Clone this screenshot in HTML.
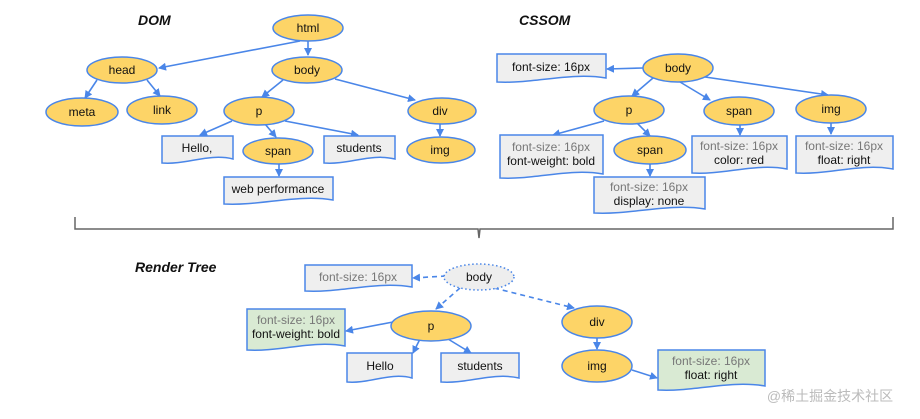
<!DOCTYPE html>
<html><head><meta charset="utf-8"><style>
html,body{margin:0;padding:0;background:#fff;}
svg{display:block;font-family:"Liberation Sans",Arial,sans-serif;}
.e{fill:#fdd467;stroke:#4a86e8;stroke-width:1.5}
.d{fill:#efefef;stroke:#4a86e8;stroke-width:1.5}
.g{fill:#d9ead3;stroke:#4a86e8;stroke-width:1.5}
.a{stroke:#4a86e8;stroke-width:1.6;fill:none;marker-end:url(#m)}
.ad{stroke:#4a86e8;stroke-width:1.6;fill:none;stroke-dasharray:5,4;marker-end:url(#m)}
text{font-size:12px;fill:#111;text-anchor:middle}
.gr{fill:#777}
.t{font-size:14px;font-weight:bold;font-style:italic;text-anchor:start}
</style></head><body>
<svg width="920" height="419" viewBox="0 0 920 419">
<defs><marker id="m" markerWidth="8" markerHeight="8" refX="7" refY="4" orient="auto" markerUnits="userSpaceOnUse"><path d="M0,0 L8,4 L0,8 z" fill="#4a86e8"/></marker></defs>

<text class="t" x="138" y="25">DOM</text>
<text class="t" x="519" y="25">CSSOM</text>
<text class="t" x="135" y="272">Render Tree</text>

<!-- DOM edges -->
<path class="a" d="M308,41 L308,55"/>
<path class="a" d="M300,41 L159,68"/>
<path class="a" d="M97,80 L85,98"/>
<path class="a" d="M147,80 L160,96"/>
<path class="a" d="M283,80 L262,97"/>
<path class="a" d="M335,79 L415,100"/>
<path class="a" d="M232,121 L200,135"/>
<path class="a" d="M265,124 L276,137"/>
<path class="a" d="M285,121 L358,135"/>
<path class="a" d="M440,124 L440,136"/>
<path class="a" d="M279,164 L279,176"/>

<!-- DOM nodes -->
<ellipse class="e" cx="308" cy="28" rx="35" ry="13"/><text x="308" y="32">html</text>
<ellipse class="e" cx="122" cy="70" rx="35" ry="13"/><text x="122" y="74">head</text>
<ellipse class="e" cx="307" cy="70" rx="35" ry="13"/><text x="307" y="74">body</text>
<ellipse class="e" cx="82" cy="112" rx="36" ry="14"/><text x="82" y="116">meta</text>
<ellipse class="e" cx="162" cy="110" rx="35" ry="14"/><text x="162" y="114">link</text>
<ellipse class="e" cx="259" cy="111" rx="35" ry="14"/><text x="259" y="115">p</text>
<ellipse class="e" cx="442" cy="111" rx="34" ry="13"/><text x="440" y="115">div</text>
<ellipse class="e" cx="278" cy="151" rx="35" ry="13"/><text x="278" y="155">span</text>
<ellipse class="e" cx="441" cy="150" rx="34" ry="13"/><text x="440" y="154">img</text>
<path class="d" d="M162,136 h71 v23 c-24,-6 -47,6 -71,4 z"/><text x="197" y="152">Hello,</text>
<path class="d" d="M324,136 h71 v23 c-24,-6 -47,6 -71,4 z"/><text x="359" y="152">students</text>
<path class="d" d="M224,177 h109 v23 c-36,-6 -73,6 -109,4 z"/><text x="278" y="193">web performance</text>

<!-- CSSOM edges -->
<path class="a" d="M643,68 L607,69"/>
<path class="a" d="M653,78 L632,96"/>
<path class="a" d="M680,82 L710,100"/>
<path class="a" d="M705,77 L828,95"/>
<path class="a" d="M604,121 L553,135"/>
<path class="a" d="M637,123 L650,136"/>
<path class="a" d="M650,163 L650,176"/>
<path class="a" d="M740,124 L740,135"/>
<path class="a" d="M831,122 L831,134"/>

<path class="d" d="M497,54 h109 v24 c-36,-6 -73,6 -109,4 z"/><text x="551" y="71">font-size: 16px</text>
<ellipse class="e" cx="678" cy="68" rx="35" ry="14"/><text x="678" y="72">body</text>
<ellipse class="e" cx="629" cy="110" rx="35" ry="14"/><text x="629" y="114">p</text>
<ellipse class="e" cx="739" cy="111" rx="35" ry="14"/><text x="739" y="115">span</text>
<ellipse class="e" cx="831" cy="109" rx="35" ry="14"/><text x="831" y="113">img</text>
<ellipse class="e" cx="650" cy="150" rx="36" ry="14"/><text x="650" y="154">span</text>
<path class="d" d="M500,135 h103 v39 c-34,-6 -69,6 -103,4 z"/><text class="gr" x="551" y="151">font-size: 16px</text><text x="551" y="165">font-weight: bold</text>
<path class="d" d="M594,177 h111 v32 c-37,-6 -74,6 -111,4 z"/><text class="gr" x="649" y="191">font-size: 16px</text><text x="649" y="205">display: none</text>
<path class="d" d="M692,136 h95 v33 c-32,-6 -63,6 -95,4 z"/><text class="gr" x="739" y="150">font-size: 16px</text><text x="739" y="164">color: red</text>
<path class="d" d="M796,136 h97 v33 c-32,-6 -65,6 -97,4 z"/><text class="gr" x="844" y="150">font-size: 16px</text><text x="844" y="164">float: right</text>

<!-- brace -->
<path d="M75,217 V229 H478 L479,238 L480,229 H893 V217" stroke="#666" stroke-width="1.5" fill="none"/>

<!-- Render tree edges -->
<path class="ad" d="M446,276 L413,278"/>
<path class="ad" d="M460,288 L436,309"/>
<path class="ad" d="M494,288 L574,308"/>
<path class="a" d="M393,322 L346,331"/>
<path class="a" d="M420,339 L413,353"/>
<path class="a" d="M448,339 L471,353"/>
<path class="a" d="M597,338 L597,349"/>
<path class="a" d="M632,370 L657,378"/>

<path class="d" d="M305,265 h107 v22 c-36,-6 -71,6 -107,4 z"/><text class="gr" x="358" y="281">font-size: 16px</text>
<ellipse cx="479" cy="277" rx="35" ry="13" fill="#eee" stroke="#4a86e8" stroke-width="1.5" stroke-dasharray="1.5,2.5"/><text x="479" y="281">body</text>
<path class="g" d="M247,309 h98 v37 c-33,-6 -65,6 -98,4 z"/><text class="gr" x="296" y="324">font-size: 16px</text><text x="296" y="338">font-weight: bold</text>
<ellipse class="e" cx="431" cy="326" rx="40" ry="15"/><text x="431" y="330">p</text>
<path class="d" d="M347,353 h65 v25 c-22,-6 -43,6 -65,4 z"/><text x="380" y="370">Hello</text>
<path class="d" d="M441,353 h78 v25 c-26,-6 -52,6 -78,4 z"/><text x="480" y="370">students</text>
<ellipse class="e" cx="597" cy="322" rx="35" ry="16"/><text x="597" y="326">div</text>
<ellipse class="e" cx="597" cy="366" rx="35" ry="16"/><text x="597" y="370">img</text>
<path class="g" d="M658,350 h107 v36 c-36,-6 -71,6 -107,4 z"/><text class="gr" x="711" y="365">font-size: 16px</text><text x="711" y="379">float: right</text>

<text x="830" y="401" style="font-size:14px;fill:#bbb;font-family:'Liberation Sans','Noto Sans CJK SC',sans-serif">@稀土掘金技术社区</text>
</svg>
</body></html>
